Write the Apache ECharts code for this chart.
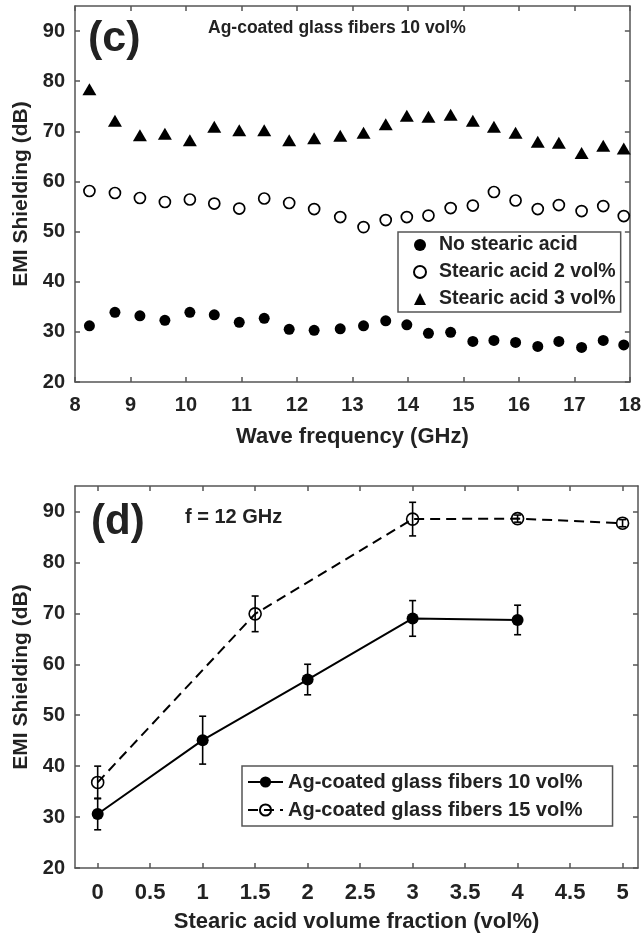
<!DOCTYPE html>
<html><head><meta charset="utf-8">
<script src="https://cdn.jsdelivr.net/npm/echarts@6/dist/echarts.min.js"></script>
<style>html,body{margin:0;padding:0;background:#fff}#c{width:644px;height:938px}</style>
</head><body><div id="c"></div>
<script>
// ---- Panel (c) data ----
const freqGHz    = [8.26, 8.72, 9.17, 9.62, 10.07, 10.51, 10.96, 11.41, 11.86, 12.31, 12.78, 13.2, 13.6, 13.98, 14.37, 14.77, 15.17, 15.55, 15.94, 16.34, 16.72, 17.13, 17.52, 17.89];
const noStearic  = [31.2, 33.9, 33.2, 32.3, 33.9, 33.4, 31.9, 32.7, 30.5, 30.3, 30.6, 31.2, 32.2, 31.4, 29.7, 29.9, 28.1, 28.3, 27.9, 27.1, 28.1, 26.9, 28.3, 27.4];
const stearic2   = [58.1, 57.7, 56.7, 55.9, 56.4, 55.6, 54.6, 56.6, 55.7, 54.5, 52.9, 50.9, 52.3, 52.9, 53.2, 54.7, 55.2, 57.9, 56.2, 54.5, 55.3, 54.1, 55.1, 53.1];
const stearic3   = [78.4, 72.1, 69.2, 69.5, 68.2, 70.9, 70.2, 70.2, 68.2, 68.6, 69.1, 69.7, 71.4, 73.1, 72.9, 73.3, 72.1, 70.9, 69.7, 67.9, 67.7, 65.7, 67.1, 66.6];
const freqTicks  = [8, 9, 10, 11, 12, 13, 14, 15, 16, 17, 18];
const emiTicks   = [20, 30, 40, 50, 60, 70, 80, 90];
// ---- Panel (d) data ----
const fraction10 = [0, 1, 2, 3, 4];
const emi10      = [30.6, 45.1, 57.0, 69.0, 68.7];
const err10      = [3.1, 4.7, 3.0, 3.5, 2.9];
const fraction15 = [0, 1.5, 3, 4, 5];
const emi15      = [36.8, 69.9, 88.5, 88.6, 87.7];
const err15      = [3.2, 3.5, 3.3, 0.7, 0.7];
const fractionTicks = [0, 0.5, 1, 1.5, 2, 2.5, 3, 3.5, 4, 4.5, 5];

const FONT = "'Liberation Sans', Arial, sans-serif";
const TXT = '#222';
const AX = '#555';
const INK = '#000';

function frameX(gridIndex, pos, min, max, ticks, withLabels, name, nameGap, labelMargin, labelSize) {
  return {
    type: 'value', gridIndex, position: pos, min, max,
    axisLine: {show: true, onZero: false, lineStyle: {color: AX, width: 1.5}},
    axisTick: {show: true, inside: true, length: 5, customValues: ticks, lineStyle: {color: AX, width: 1.5}},
    axisLabel: withLabels ? {show: true, customValues: ticks, margin: labelMargin, color: TXT, fontFamily: FONT, fontWeight: 'bold', fontSize: labelSize} : {show: false},
    splitLine: {show: false},
    name: name || '', nameLocation: 'middle', nameGap: nameGap || 0,
    nameTextStyle: {color: TXT, fontFamily: FONT, fontWeight: 'bold', fontSize: 22}
  };
}
function frameY(gridIndex, pos, withLabels) {
  return {
    type: 'value', gridIndex, position: pos, min: 20, max: 95,
    axisLine: {show: true, onZero: false, lineStyle: {color: AX, width: 1.5}},
    axisTick: {show: true, inside: true, length: 5, customValues: emiTicks, lineStyle: {color: AX, width: 1.5}},
    axisLabel: withLabels ? {show: true, customValues: emiTicks, margin: 10, color: TXT, fontFamily: FONT, fontWeight: 'bold', fontSize: 20} : {show: false},
    splitLine: {show: false},
    name: withLabels ? 'EMI Shielding (dB)' : '', nameLocation: 'middle', nameGap: 40,
    nameTextStyle: {color: TXT, fontFamily: FONT, fontWeight: 'bold', fontSize: 21}
  };
}

function errRender(params, api) {
  const x = api.value(0), lo = api.value(1), hi = api.value(2);
  const p1 = api.coord([x, hi]), p2 = api.coord([x, lo]);
  const w = 3.5;
  const st = {stroke: INK, lineWidth: 1.6, fill: null};
  return {type: 'group', children: [
    {type: 'line', shape: {x1: p1[0], y1: p1[1], x2: p2[0], y2: p2[1]}, style: st},
    {type: 'line', shape: {x1: p1[0] - w, y1: p1[1], x2: p1[0] + w, y2: p1[1]}, style: st},
    {type: 'line', shape: {x1: p2[0] - w, y1: p2[1], x2: p2[0] + w, y2: p2[1]}, style: st}
  ]};
}

const chart = echarts.init(document.getElementById('c'), null, {renderer: 'canvas'});
const option = {
  animation: false,
  backgroundColor: '#fff',
  grid: [
    {left: 75, right: 12, top: 6, height: 376},
    {left: 75, right: 6, top: 486, height: 382}
  ],
  xAxis: [
    frameX(0, 'bottom', 8, 18, freqTicks, true, 'Wave frequency (GHz)', 44, 13, 20),
    frameX(0, 'top', 8, 18, freqTicks, false),
    frameX(1, 'bottom', -0.216, 5.147, fractionTicks, true, 'Stearic acid volume fraction (vol%)', 43, 14, 22),
    frameX(1, 'top', -0.216, 5.147, fractionTicks, false)
  ],
  yAxis: [
    frameY(0, 'left', true), frameY(0, 'right', false),
    frameY(1, 'left', true), frameY(1, 'right', false)
  ],
  legend: [
    {
      data: [
        {name: 'No stearic acid', icon: 'circle'},
        {name: 'Stearic acid 2 vol%', icon: 'circle'},
        {name: 'Stearic acid 3 vol%', icon: 'triangle'}
      ],
      orient: 'vertical', left: 398, top: 232,
      padding: [2, 5, 2, 15], itemGap: 5, itemWidth: 12, itemHeight: 12,
      borderColor: AX, borderWidth: 1.5, backgroundColor: '#fff',
      textStyle: {color: TXT, fontFamily: FONT, fontWeight: 'bold', fontSize: 19.5, lineHeight: 22, padding: [0, 0, 0, 8]}
    },
    {
      data: ['Ag-coated glass fibers 10 vol%', 'Ag-coated glass fibers 15 vol%'],
      orient: 'vertical', left: 242, top: 766,
      padding: [5, 30, 5, 5], itemGap: 6, itemWidth: 35, itemHeight: 14,
      borderColor: AX, borderWidth: 1.5, backgroundColor: '#fff',
      textStyle: {color: TXT, fontFamily: FONT, fontWeight: 'bold', fontSize: 20, lineHeight: 22}
    }
  ],
  graphic: [
    {type: 'text', left: 88, top: 18, style: {text: '(c)', font: "bold 43px 'Liberation Sans', Arial, sans-serif", fill: TXT}},
    {type: 'text', left: 208, top: 19, style: {text: 'Ag-coated glass fibers 10 vol%', font: "bold 17.5px 'Liberation Sans', Arial, sans-serif", fill: TXT}},
    {type: 'text', left: 91, top: 501, style: {text: '(d)', font: "bold 42px 'Liberation Sans', Arial, sans-serif", fill: TXT}},
    {type: 'text', left: 185, top: 507, style: {text: 'f = 12 GHz', font: "bold 20px 'Liberation Sans', Arial, sans-serif", fill: TXT}}
  ],
  series: [
    {name: 'No stearic acid', type: 'scatter', xAxisIndex: 0, yAxisIndex: 0,
     data: freqGHz.map((f, i) => [f, noStearic[i]]), symbol: 'circle', symbolSize: 11,
     itemStyle: {color: INK, opacity: 1}},
    {name: 'Stearic acid 2 vol%', type: 'scatter', xAxisIndex: 0, yAxisIndex: 0,
     data: freqGHz.map((f, i) => [f, stearic2[i]]), symbol: 'circle', symbolSize: 11,
     itemStyle: {color: '#fff', borderColor: INK, borderWidth: 1.7, opacity: 1}},
    {name: 'Stearic acid 3 vol%', type: 'scatter', xAxisIndex: 0, yAxisIndex: 0,
     data: freqGHz.map((f, i) => [f, stearic3[i]]), symbol: 'triangle', symbolSize: [14, 12],
     itemStyle: {color: INK, opacity: 1}},
    {name: 'Ag-coated glass fibers 10 vol%', type: 'line', xAxisIndex: 2, yAxisIndex: 2,
     data: fraction10.map((x, i) => [x, emi10[i]]), symbol: 'circle', symbolSize: 12, showAllSymbol: true,
     lineStyle: {color: INK, width: 2, type: 'solid'}, itemStyle: {color: INK, borderColor: INK, borderWidth: 0, opacity: 1}, z: 3},
    {name: 'Ag-coated glass fibers 15 vol%', type: 'line', xAxisIndex: 2, yAxisIndex: 2,
     data: fraction15.map((x, i) => [x, emi15[i]]), symbol: 'circle', symbolSize: 12, showAllSymbol: true,
     lineStyle: {color: INK, width: 2, type: [10, 6]}, itemStyle: {color: 'transparent', borderColor: INK, borderWidth: 1.6, opacity: 1}, z: 3},
    {name: 'err10', type: 'custom', xAxisIndex: 2, yAxisIndex: 2, renderItem: errRender,
     data: fraction10.map((x, i) => [x, emi10[i] - err10[i], emi10[i] + err10[i]]),
     encode: {x: 0, y: [1, 2]}, z: 4, silent: true},
    {name: 'err15', type: 'custom', xAxisIndex: 2, yAxisIndex: 2, renderItem: errRender,
     data: fraction15.map((x, i) => [x, emi15[i] - err15[i], emi15[i] + err15[i]]),
     encode: {x: 0, y: [1, 2]}, z: 4, silent: true}
  ]
};
chart.setOption(option);
</script>
</body></html>
